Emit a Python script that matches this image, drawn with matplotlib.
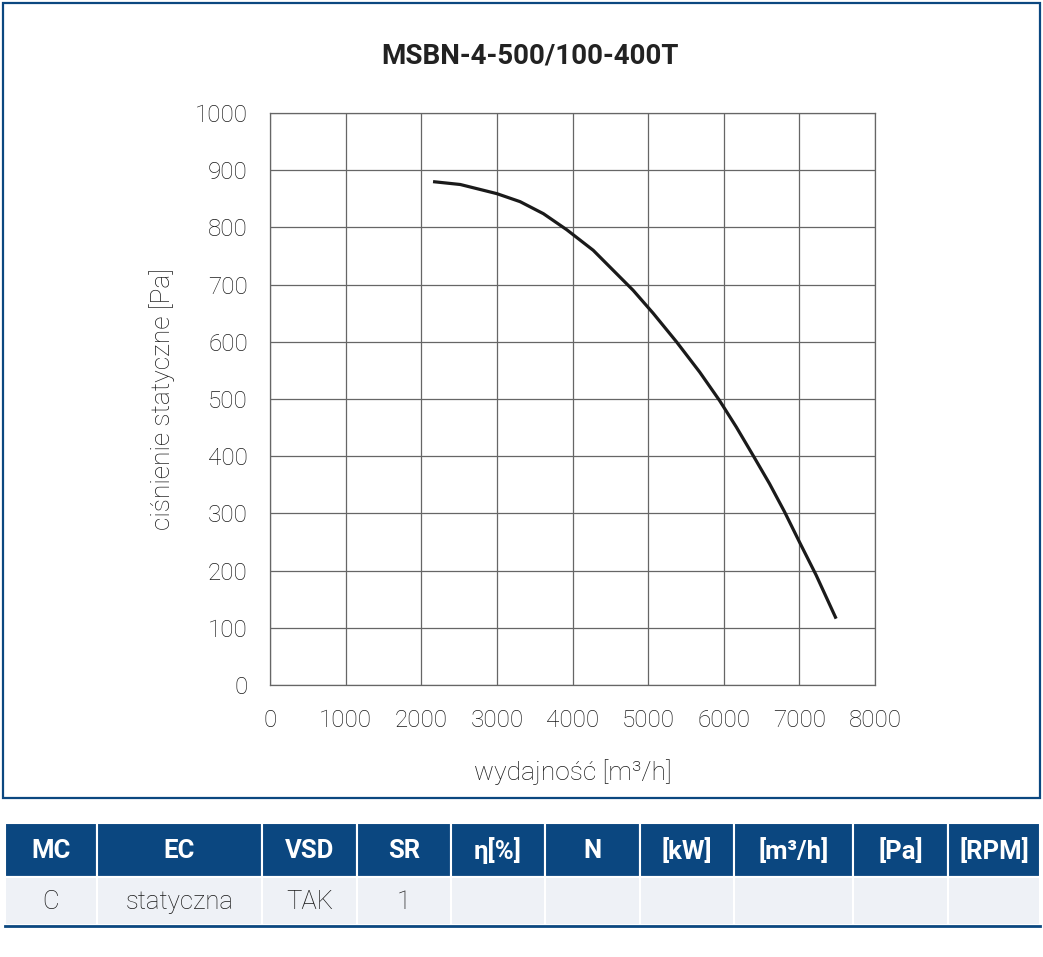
import matplotlib
matplotlib.use("Agg")
import matplotlib.pyplot as plt
from matplotlib.patches import Rectangle

plt.rcParams['font.family'] = ['Roboto', 'DejaVu Sans']

# ---- data ----
title = "MSBN-4-500/100-400T"
flow = [2156, 2516, 3000, 3307, 3615, 3923, 4274, 4538, 4802, 5066, 5375, 5682, 5946, 6166, 6385, 6605, 6803, 7001, 7222, 7486]
pressure = [880, 875, 859, 845, 824, 796, 760, 725, 690, 650, 600, 547, 497, 451, 402, 352, 303, 250, 192, 116]
x_ticks = [0, 1000, 2000, 3000, 4000, 5000, 6000, 7000, 8000]
y_ticks = [0, 100, 200, 300, 400, 500, 600, 700, 800, 900, 1000]
x_label = "wydajność [m³/h]"
y_label = "ciśnienie statyczne [Pa]"
table_header = ["MC", "EC", "VSD", "SR", "η[%]", "N", "[kW]", "[m³/h]", "[Pa]", "[RPM]"]
table_row = ["C", "statyczna", "TAK", "1", "", "", "", "", "", ""]

W, H = 1043, 957
fig = plt.figure(figsize=(W / 100, H / 100), dpi=100)

# overlay for frame & table (pixel coordinates)
ov = fig.add_axes([0, 0, 1, 1], zorder=0)
ov.set_xlim(0, W)
ov.set_ylim(H, 0)
ov.axis('off')

blue = '#0b4780'
txt = '#1a1a1a'
ov.add_patch(Rectangle((3, 3), 1037, 795, fill=False, ec=blue, lw=1.6))
ov.text(530, 56, title, fontsize=20, fontweight='bold', color='#222222', ha='center', va='center')

ax = fig.add_axes([270 / W, (H - 685) / H, (875 - 270) / W, (685 - 113) / H], zorder=1)
ax.plot(flow, pressure, color='#1a1a1a', lw=2.3, solid_capstyle='butt', solid_joinstyle='round')
ax.set_xlim(0, 8000)
ax.set_ylim(0, 1000)
ax.set_xticks(x_ticks)
ax.set_yticks(y_ticks)
ax.set_xticklabels([str(v) for v in x_ticks], fontsize=17.5, color=txt, fontweight='light')
ax.set_yticklabels([str(v) for v in y_ticks], fontsize=17.5, color=txt, fontweight='light')
ax.tick_params(axis='x', length=0, pad=17)
ax.tick_params(axis='y', length=0, pad=16)
ax.grid(True, color='#666666', lw=0.9)
ax.set_axisbelow(True)
for s in ax.spines.values():
    s.set_color('#666666')
    s.set_linewidth(0.9)
ax.set_xlabel(x_label, fontsize=19, color=txt, labelpad=20, fontweight='light')
ax.set_ylabel(y_label, fontsize=19, color=txt, labelpad=14, fontweight='light')

# table
edges = [5, 97, 262, 357, 451, 545, 640, 734, 853, 948, 1040]
hy0, hy1 = 823, 877
ry1 = 925
for i in range(len(table_header)):
    x0, x1 = edges[i], edges[i + 1]
    ov.add_patch(Rectangle((x0, hy0), x1 - x0, hy1 - hy0, fc=blue, ec='white', lw=1.5))
    ov.add_patch(Rectangle((x0, hy1), x1 - x0, ry1 - hy1, fc='#eef1f6', ec='white', lw=1.5))
    ov.text((x0 + x1) / 2, (hy0 + hy1) / 2 + 1, table_header[i], color='white', fontsize=18.5,
            fontweight='bold', ha='center', va='center')
    ov.text((x0 + x1) / 2, (hy1 + ry1) / 2 + 1, table_row[i], color=txt, fontsize=18.5,
            fontweight='light', ha='center', va='center')
ov.plot([5, 1040], [926, 926], color=blue, lw=2)

fig.savefig('out.png', dpi=100)
